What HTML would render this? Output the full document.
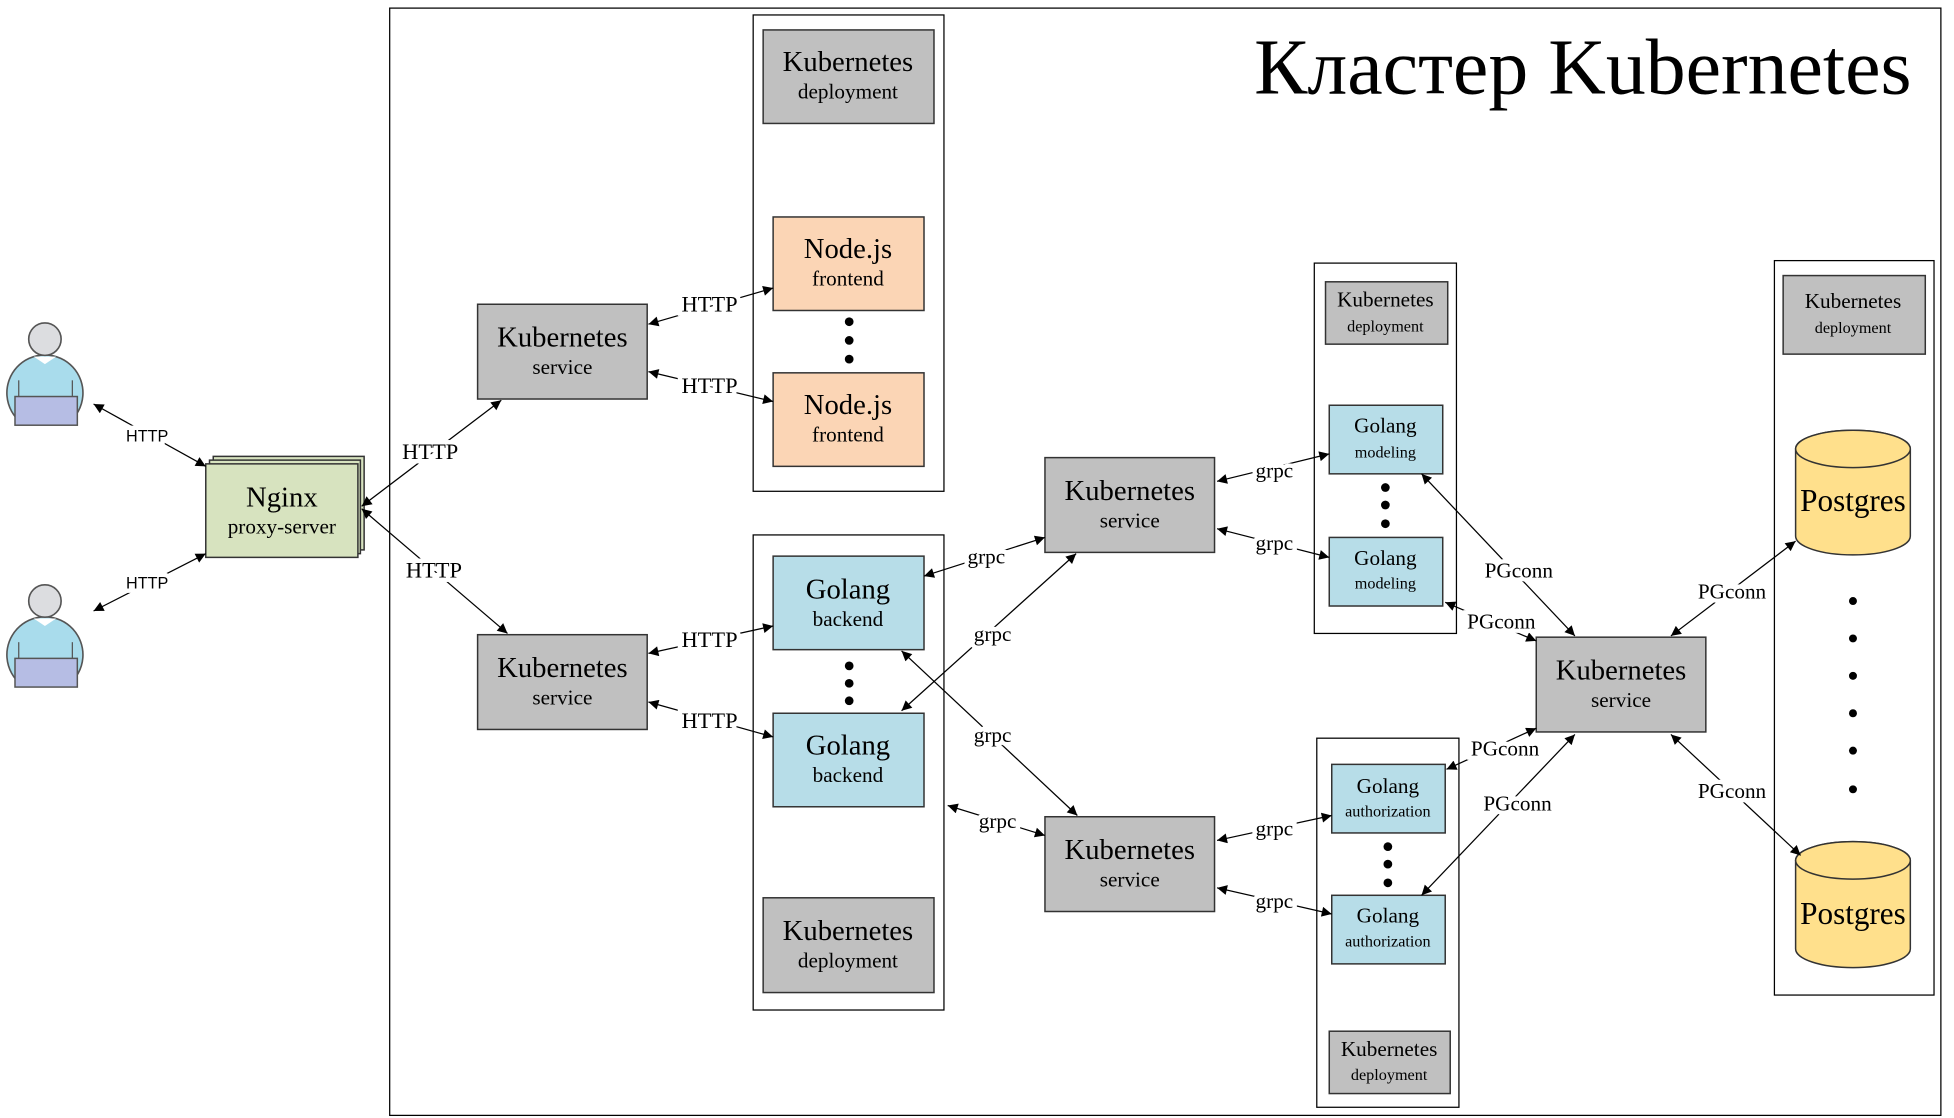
<!DOCTYPE html>
<html><head><meta charset="utf-8"><style>html,body{margin:0;padding:0;background:#fff}svg{display:block}</style></head>
<body>
<svg width="1954" height="1118" viewBox="0 0 1567 896.6" xmlns="http://www.w3.org/2000/svg" font-family="'Liberation Serif', serif">
<defs>
<marker id="a" viewBox="0 0 10 10" refX="10" refY="5" markerWidth="10" markerHeight="8" markerUnits="userSpaceOnUse" orient="auto-start-reverse"><path d="M0,0L10,5L0,10z" fill="#000"/></marker>
<g id="user">
<path d="M-19,39 A30.5,30.5 0 1 1 19,39 Z" fill="#a9dcec" stroke="#555" stroke-width="1.3"/>
<path d="M-9,-14 L0,-8 L9,-14Z" fill="#fff"/>
<line x1="-21" y1="5" x2="-21" y2="18" stroke="#555"/>
<line x1="22" y1="5" x2="22" y2="18" stroke="#555"/>
<circle cx="0" cy="-28" r="13" fill="#dcdde0" stroke="#555" stroke-width="1.3"/>
<rect x="-24" y="18" width="50" height="23" fill="#b6bde4" stroke="#555" stroke-width="1.2"/>
</g>
</defs>
<rect x="312.5" y="6.5" width="1244" height="888" fill="none" stroke="#000" stroke-width="1"/>
<text x="1533" y="75" text-anchor="end" font-size="64">Кластер Kubernetes</text>

<use href="#user" x="36" y="300"/>
<use href="#user" x="36" y="510"/>

<g stroke="#333" stroke-width="1.2" fill="#d7e3bf">
<rect x="171" y="366" width="121" height="75"/>
<rect x="168" y="369" width="121" height="75"/>
<rect x="165" y="372" width="122" height="75"/>
</g>
<text x="226" y="406" text-anchor="middle" font-size="23">Nginx</text>
<text x="226" y="428" text-anchor="middle" font-size="17">proxy-server</text>

<g fill="none" stroke="#000" stroke-width="1">
<rect x="604" y="12" width="153" height="382"/>
<rect x="604" y="429" width="153" height="381"/>
<rect x="1054" y="211" width="114" height="297"/>
<rect x="1056" y="592" width="114" height="296"/>
<rect x="1423" y="209" width="128" height="589"/>
</g>

<g stroke="#333" stroke-width="1.2" fill="#c0c0c0">
<rect x="383" y="244" width="136" height="76"/>
<rect x="383" y="509" width="136" height="76"/>
<rect x="838" y="367" width="136" height="76"/>
<rect x="838" y="655" width="136" height="76"/>
<rect x="1232" y="511" width="136" height="76"/>
<rect x="612" y="24" width="137" height="75"/>
<rect x="612" y="720" width="137" height="76"/>
<rect x="1063" y="226" width="98" height="50"/>
<rect x="1066" y="827" width="97" height="50"/>
<rect x="1430" y="221" width="114" height="63"/>
</g>
<g stroke="#333" stroke-width="1.2" fill="#fbd5b5">
<rect x="620" y="174" width="121" height="75"/>
<rect x="620" y="299" width="121" height="75"/>
</g>
<g stroke="#333" stroke-width="1.2" fill="#b7dde8">
<rect x="620" y="446" width="121" height="75"/>
<rect x="620" y="572" width="121" height="75"/>
<rect x="1066" y="325" width="91" height="55"/>
<rect x="1066" y="431" width="91" height="55"/>
<rect x="1068" y="613" width="91" height="55"/>
<rect x="1068" y="718" width="91" height="55"/>
</g>
<g stroke="#333" stroke-width="1.2" fill="#ffe08c">
<path d="M1440,360 L1440,430 A46,15 0 0 0 1532,430 L1532,360 A46,15 0 0 0 1440,360Z"/>
<ellipse cx="1486" cy="360" rx="46" ry="15"/>
<path d="M1440,690 L1440,761 A46,15 0 0 0 1532,761 L1532,690 A46,15 0 0 0 1440,690Z"/>
<ellipse cx="1486" cy="690" rx="46" ry="15"/>
</g>

<g text-anchor="middle" fill="#000">
<g font-size="23">
<text x="451" y="278">Kubernetes</text><text x="451" y="543">Kubernetes</text>
<text x="906" y="401">Kubernetes</text><text x="906" y="689">Kubernetes</text>
<text x="1300" y="545">Kubernetes</text>
<text x="680" y="57">Kubernetes</text><text x="680" y="754">Kubernetes</text>
<text x="680" y="207">Node.js</text><text x="680" y="332">Node.js</text>
<text x="680" y="480">Golang</text><text x="680" y="605">Golang</text>
</g>
<g font-size="25">
<text x="1486" y="410">Postgres</text><text x="1486" y="741">Postgres</text>
</g>
<g font-size="17">
<text x="451" y="300">service</text><text x="451" y="565">service</text>
<text x="906" y="423">service</text><text x="906" y="711">service</text>
<text x="1300" y="567">service</text>
<text x="680" y="79">deployment</text><text x="680" y="776">deployment</text>
<text x="680" y="229">frontend</text><text x="680" y="354">frontend</text>
<text x="680" y="502">backend</text><text x="680" y="627">backend</text>
<text x="1111" y="246">Kubernetes</text><text x="1114" y="847">Kubernetes</text>
<text x="1486" y="247">Kubernetes</text>
<text x="1111" y="347">Golang</text><text x="1111" y="453">Golang</text>
<text x="1113" y="636">Golang</text><text x="1113" y="740">Golang</text>
</g>
<g font-size="13">
<text x="1111" y="266">deployment</text><text x="1114" y="866">deployment</text>
<text x="1486" y="267">deployment</text>
<text x="1111" y="367">modeling</text><text x="1111" y="472">modeling</text>
<text x="1113" y="655">authorization</text><text x="1113" y="759">authorization</text>
</g>
</g>

<g fill="#000">
<circle cx="681" cy="258" r="3.5"/><circle cx="681" cy="273" r="3.5"/><circle cx="681" cy="288" r="3.5"/>
<circle cx="681" cy="534" r="3.5"/><circle cx="681" cy="548" r="3.5"/><circle cx="681" cy="562" r="3.5"/>
<circle cx="1111" cy="391" r="3.5"/><circle cx="1111" cy="405" r="3.5"/><circle cx="1111" cy="420" r="3.5"/>
<circle cx="1113" cy="679" r="3.5"/><circle cx="1113" cy="693" r="3.5"/><circle cx="1113" cy="708" r="3.5"/>
<circle cx="1486" cy="482" r="3.2"/><circle cx="1486" cy="512" r="3.2"/><circle cx="1486" cy="542" r="3.2"/>
<circle cx="1486" cy="572" r="3.2"/><circle cx="1486" cy="602" r="3.2"/><circle cx="1486" cy="633" r="3.2"/>
</g>

<g stroke="#000" stroke-width="1" marker-start="url(#a)" marker-end="url(#a)">
<line x1="75" y1="324" x2="165" y2="374"/>
<line x1="75" y1="490" x2="165" y2="444"/>
<line x1="290" y1="406" x2="402" y2="321"/>
<line x1="290" y1="408" x2="407" y2="508"/>
<line x1="520" y1="260" x2="620" y2="231"/>
<line x1="520" y1="298" x2="620" y2="322"/>
<line x1="520" y1="524" x2="620" y2="502"/>
<line x1="520" y1="563" x2="620" y2="591"/>
<line x1="741" y1="462" x2="838" y2="431"/>
<line x1="723" y1="570" x2="863" y2="444"/>
<line x1="723" y1="522" x2="864" y2="654"/>
<line x1="760" y1="646" x2="838" y2="670"/>
<line x1="976" y1="386" x2="1066" y2="364"/>
<line x1="976" y1="424" x2="1066" y2="447"/>
<line x1="976" y1="674" x2="1068" y2="654"/>
<line x1="976" y1="712" x2="1068" y2="733"/>
<line x1="1140" y1="380" x2="1263" y2="510"/>
<line x1="1159" y1="483" x2="1232" y2="514"/>
<line x1="1160" y1="617" x2="1232" y2="584"/>
<line x1="1140" y1="718" x2="1263" y2="589"/>
<line x1="1340" y1="510" x2="1440" y2="434"/>
<line x1="1340" y1="589" x2="1444" y2="686"/>
</g>

<g text-anchor="middle" stroke="#fff" stroke-width="7" paint-order="stroke" fill="#000">
<g font-family="'Liberation Sans', sans-serif" font-size="13">
<text x="118" y="354">HTTP</text><text x="118" y="472">HTTP</text>
</g>
<g font-size="18">
<text x="345" y="368">HTTP</text><text x="348" y="463">HTTP</text>
<text x="569" y="250">HTTP</text><text x="569" y="315">HTTP</text>
<text x="569" y="519">HTTP</text><text x="569" y="584">HTTP</text>
</g>
<g font-size="17">
<text x="791" y="452">grpc</text><text x="796" y="514">grpc</text>
<text x="796" y="595">grpc</text><text x="800" y="664">grpc</text>
<text x="1022" y="383">grpc</text><text x="1022" y="441">grpc</text>
<text x="1022" y="670">grpc</text><text x="1022" y="728">grpc</text>
<text x="1218" y="463">PGconn</text><text x="1204" y="504">PGconn</text>
<text x="1207" y="606">PGconn</text><text x="1217" y="650">PGconn</text>
<text x="1389" y="480">PGconn</text><text x="1389" y="640">PGconn</text>
</g>
</g>
</svg>
</body></html>
